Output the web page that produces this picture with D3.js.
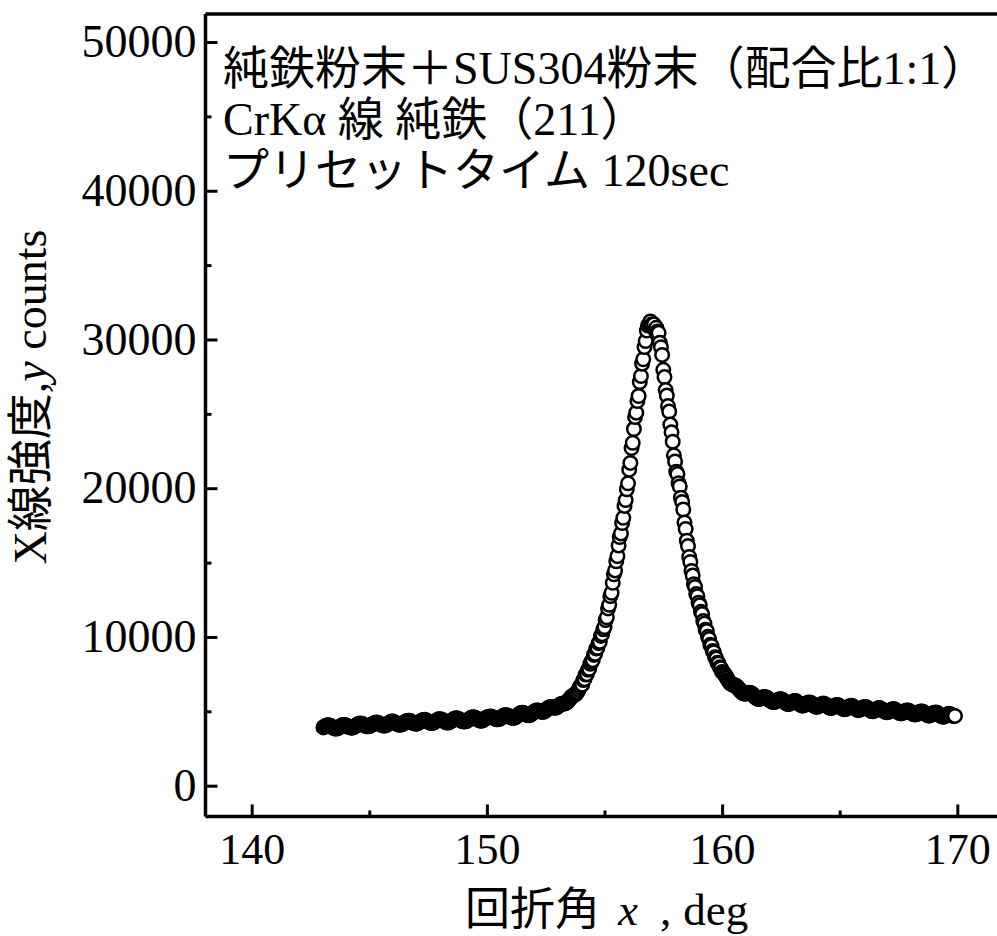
<!DOCTYPE html>
<html>
<head>
<meta charset="utf-8">
<script src="https://cdn.jsdelivr.net/npm/d3@7"></script>
<style>
  body { margin: 0; background: #fff; }
  svg { display: block; }
  .serif { font-family: 'Liberation Serif', 'Times New Roman', 'Noto Sans CJK JP', serif; fill: #000; }
  .tick line { stroke: #000; stroke-width: 3; }
  .tick text { font-family: 'Liberation Serif', 'Times New Roman', serif; fill: #000; }
  .xTicks .tick text { font-size: 44px; }
  .yTicks .tick text { font-size: 46px; }
  .frameLine { stroke: #000; stroke-width: 3.5; }
  .point { fill: #fff; stroke: #000; stroke-width: 2.5; }
</style>
</head>
<body>
<svg id="chart"></svg>
<script>
// scan start / step (deg) and counts
const angleStart = 143.05;
const angleStep = 0.05;
const counts = [
    3920, 3970, 4010, 4050, 4060, 4040, 4010, 3960, 3920, 3870, 3840, 3840, 3860, 3910, 3960, 4010, 4060, 4080, 4080, 4050,
    4010, 3980, 3940, 3920, 3900, 3910, 3950, 4000, 4060, 4110, 4150, 4180, 4170, 4150, 4100, 4050, 4020, 3990, 3990, 4010,
    4050, 4090, 4150, 4190, 4230, 4250, 4230, 4200, 4150, 4110, 4070, 4040, 4040, 4060, 4110, 4170, 4220, 4280, 4310, 4310,
    4280, 4240, 4190, 4150, 4110, 4090, 4110, 4140, 4200, 4250, 4300, 4350, 4370, 4370, 4330, 4280, 4240, 4200, 4180, 4170,
    4190, 4240, 4290, 4340, 4390, 4420, 4430, 4400, 4350, 4310, 4260, 4220, 4210, 4220, 4260, 4320, 4370, 4420, 4460, 4470,
    4450, 4420, 4370, 4330, 4280, 4250, 4250, 4270, 4320, 4370, 4420, 4480, 4510, 4530, 4510, 4470, 4430, 4380, 4350, 4320,
    4320, 4330, 4360, 4420, 4470, 4530, 4570, 4600, 4590, 4560, 4510, 4460, 4420, 4380, 4370, 4380, 4430, 4480, 4540, 4580,
    4620, 4640, 4650, 4630, 4590, 4550, 4510, 4470, 4460, 4480, 4510, 4570, 4630, 4680, 4730, 4740, 4730, 4700, 4650, 4610,
    4580, 4570, 4570, 4600, 4650, 4720, 4780, 4840, 4880, 4900, 4880, 4840, 4800, 4770, 4740, 4740, 4770, 4830, 4890, 4950,
    5010, 5050, 5060, 5040, 5010, 4990, 4970, 4970, 5000, 5070, 5140, 5210, 5260, 5290, 5290, 5270, 5250, 5240, 5260, 5310,
    5380, 5440, 5480, 5510, 5520, 5530, 5550, 5600, 5680, 5790, 5890, 5980, 6040, 6090, 6130, 6200, 6310, 6460, 6620, 6760,
    6790, 7100, 7160, 7470, 7500, 7790, 7860, 8200, 8350, 8440, 8790, 8870, 9220, 9270, 9580, 9670, 10070, 10190, 10520, 10670,
    11140, 11320, 11920, 12160, 12740, 12970, 13640, 14210, 14470, 15090, 15430, 16150, 16720, 16960, 17660, 18010, 18810, 19200, 19930, 20330,
    21250, 21700, 22700, 23050, 23980, 24780, 25080, 25860, 26200, 27140, 27540, 28370, 28670, 29490, 29890, 30600, 30940, 31020, 31210, 31000,
    30900, 31020, 30650, 30790, 30540, 30450, 29780, 29480, 28960, 27960, 27470, 26600, 26230, 25520, 25150, 24280, 23760, 23130, 22210, 21800,
    21110, 20950, 20340, 20120, 19360, 19080, 18570, 17700, 17260, 16470, 16110, 15380, 15040, 14440, 14130, 13550, 13360, 12880, 12740, 12300,
    12130, 11690, 11540, 11080, 10900, 10490, 10400, 10010, 9860, 9470, 9400, 9060, 8980, 8640, 8550, 8260, 8220, 7960, 7900, 7650,
    7610, 7510, 7390, 7250, 7110, 6990, 6890, 6830, 6790, 6770, 6740, 6700, 6630, 6540, 6440, 6340, 6260, 6210, 6190, 6200,
    6220, 6240, 6250, 6240, 6200, 6130, 6050, 5970, 5900, 5850, 5830, 5840, 5870, 5910, 5940, 5960, 5950, 5920, 5850, 5790,
    5720, 5670, 5630, 5620, 5640, 5680, 5730, 5780, 5810, 5810, 5780, 5720, 5650, 5580, 5520, 5490, 5500, 5540, 5590, 5640,
    5670, 5690, 5670, 5620, 5550, 5490, 5430, 5390, 5390, 5430, 5480, 5530, 5570, 5600, 5580, 5530, 5460, 5400, 5340, 5310,
    5310, 5350, 5400, 5450, 5500, 5520, 5500, 5450, 5390, 5320, 5260, 5230, 5230, 5260, 5320, 5370, 5410, 5420, 5400, 5340,
    5280, 5210, 5160, 5140, 5150, 5200, 5250, 5310, 5350, 5370, 5340, 5280, 5220, 5150, 5100, 5080, 5110, 5150, 5210, 5260,
    5280, 5290, 5250, 5200, 5130, 5060, 5020, 5000, 5030, 5070, 5120, 5180, 5210, 5220, 5180, 5120, 5060, 5000, 4960, 4940,
    4950, 5000, 5050, 5100, 5140, 5140, 5120, 5060, 4990, 4930, 4880, 4860, 4880, 4920, 4970, 5030, 5060, 5060, 5030, 4970,
    4900, 4850, 4800, 4790, 4800, 4840, 4900, 4950, 4990, 4990, 4960, 4910, 4840, 4780, 4730, 4710, 4740, 4780, 4840, 4890,
    4910, 4920, 4880, 4820, 4760, 4700, 4660, 4640, 4660, 4710, 4760, 4800, 4830, 4810, 4760, 4710, 4680, 4690
];

const xTicks = [140, 150, 160, 170];
const xMinorTicks = [145, 155, 165];
const yTicks = [0, 10000, 20000, 30000, 40000, 50000];
const yMinorTicks = [5000, 15000, 25000, 35000, 45000];
const noteLines = ['純鉄粉末＋SUS304粉末（配合比1:1）', 'CrKα 線 純鉄（211）', 'プリセットタイム 120sec'];

class DiffractionChart {
    constructor(svgID) {
        this.width = 997;
        this.height = 936;
        this.svg = d3.select('#' + svgID).attr('width', this.width).attr('height', this.height);
        this.left = 205.5;
        this.top = 14;
        this.bottom = 816.5;
        this.right = 1000;
        this.x = d3.scaleLinear().domain([140, 170]).range([251.7, 957.3]);
        this.y = d3.scaleLinear().domain([0, 50000]).range([785.7, 42]);
        this.points = counts.map((c, i) => ({ angle: angleStart + i * angleStep, count: c }));

        this.drawPoints();
        this.drawAxes();
        this.drawFrame();
        this.drawNotes();
        this.drawTitles();
    }

    drawFrame() {
        let g = this.svg.append('g').attr('class', 'frame');
        g.append('line').attr('class', 'frameLine')
            .attr('x1', this.left).attr('y1', this.top).attr('x2', this.left).attr('y2', this.bottom);
        g.append('line').attr('class', 'frameLine')
            .attr('x1', this.left).attr('y1', this.bottom).attr('x2', this.right).attr('y2', this.bottom);
        g.append('line').attr('class', 'frameLine')
            .attr('x1', this.left).attr('y1', this.top).attr('x2', this.right).attr('y2', this.top);
    }

    drawAxes() {
        let xAxis = d3.axisBottom(this.x).tickValues(xTicks).tickSize(-12).tickPadding(16);
        let xMinor = d3.axisBottom(this.x).tickValues(xMinorTicks).tickSize(-6).tickFormat(() => '');
        let yAxis = d3.axisLeft(this.y).tickValues(yTicks).tickSize(-12).tickPadding(9).tickFormat(d3.format('d'));
        let yMinor = d3.axisLeft(this.y).tickValues(yMinorTicks).tickSize(-6).tickFormat(() => '');

        [xAxis, xMinor].forEach(ax => {
            this.svg.append('g')
                .attr('class', 'xTicks')
                .attr('transform', 'translate(0,' + this.bottom + ')')
                .call(ax)
                .call(g => g.select('.domain').remove());
        });
        [yAxis, yMinor].forEach(ax => {
            this.svg.append('g')
                .attr('class', 'yTicks')
                .attr('transform', 'translate(' + this.left + ',0)')
                .call(ax)
                .call(g => g.select('.domain').remove());
        });
    }

    drawPoints() {
        // drawn left to right, later circles cover earlier ones
        this.svg.append('g')
            .attr('class', 'pointGroup')
            .selectAll('circle')
            .data(this.points)
            .join('circle')
            .attr('class', 'point')
            .attr('cx', d => this.x(d.angle))
            .attr('cy', d => this.y(d.count))
            .attr('r', 6.75);
    }

    drawNotes() {
        this.svg.append('g')
            .selectAll('text')
            .data(noteLines)
            .join('text')
            .attr('class', 'serif')
            .attr('x', 223)
            .attr('y', (d, i) => 84 + i * 51)
            .style('font-size', '46px')
            .text(d => d);
    }

    drawTitles() {
        // x axis title
        let xt = this.svg.append('text')
            .attr('class', 'serif')
            .attr('x', 465)
            .attr('y', 925)
            .style('font-size', '45px');
        xt.append('tspan').text('回折角');
        xt.append('tspan').attr('dx', 18).style('font-style', 'italic').text('x');
        xt.append('tspan').attr('dx', 22).text(',');
        xt.append('tspan').attr('dx', 12).text('deg');

        // y axis title
        let yt = this.svg.append('text')
            .attr('class', 'serif')
            .attr('transform', 'translate(46,397) rotate(-90)')
            .attr('text-anchor', 'middle')
            .style('font-size', '46px');
        yt.append('tspan').text('X線強度,');
        yt.append('tspan').style('font-style', 'italic').text('y');
        yt.append('tspan').text(' counts');
    }
}

new DiffractionChart('chart');
</script>
</body>
</html>
